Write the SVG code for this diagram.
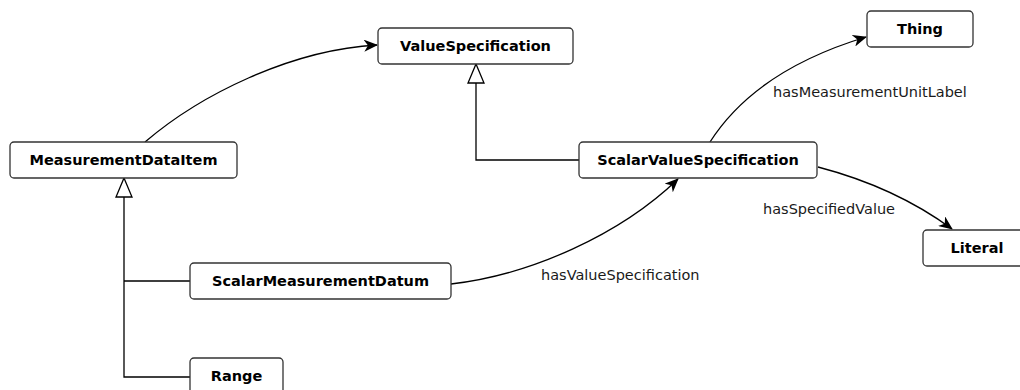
<svg xmlns="http://www.w3.org/2000/svg" width="1020" height="390" viewBox="0 0 1020 390">
  <style>
    .box { fill: #ffffff; stroke: #333333; stroke-width: 1.3; }
    .name { font-family: "DejaVu Sans", sans-serif; font-size: 14.5px; font-weight: bold; fill: #000000; text-anchor: middle; }
    .label { font-family: "DejaVu Sans", sans-serif; font-size: 14.5px; fill: #1a1a1a; }
    .edge { fill: none; stroke: #000000; stroke-width: 1.3; }
    .gen { fill: none; stroke: #000000; stroke-width: 1.3; }
    .tri { fill: #ffffff; stroke: #000000; stroke-width: 1.3; }
  </style>
  <defs>
    <marker id="arrow" viewBox="0 0 14 12" refX="13" refY="6" markerWidth="14" markerHeight="12" markerUnits="userSpaceOnUse" orient="auto">
      <path d="M0,0 L14,6 L0,12 L4,6 Z" fill="#000000"/>
    </marker>
  </defs>
  <rect width="1020" height="390" fill="#ffffff"/>

  <g id="connectors">
    <!-- generalization: MeasurementDataItem subclasses -->
    <path class="gen" d="M124,197 V377 H190 M124,281 H190"/>
    <polygon class="tri" points="124,178 132,197 116,197"/>
    <!-- generalization: ScalarValueSpecification -> ValueSpecification -->
    <path class="gen" d="M476,83 V160 H579"/>
    <polygon class="tri" points="476,64 484,83 468,83"/>
    <!-- object properties -->
    <path class="edge" d="M145,142 C200,95 290,50 377,45" marker-end="url(#arrow)"/>
    <path class="edge" d="M451,284 C530,275 620,235 678,179" marker-end="url(#arrow)"/>
    <path class="edge" d="M710,142 C740,95 790,60 866,37" marker-end="url(#arrow)"/>
    <path class="edge" d="M818,167 C860,178 910,198 952,229" marker-end="url(#arrow)"/>
    <text class="label" x="773" y="97">hasMeasurementUnitLabel</text>
    <text class="label" x="763" y="214">hasSpecifiedValue</text>
    <text class="label" x="541" y="280">hasValueSpecification</text>
  </g>

  <g id="ValueSpecification">
    <rect class="box" x="378" y="28" width="195" height="36" rx="4"/>
    <text class="name" x="475.5" y="51">ValueSpecification</text>
  </g>
  <g id="Thing">
    <rect class="box" x="867" y="11" width="106" height="36" rx="4"/>
    <text class="name" x="920" y="34">Thing</text>
  </g>
  <g id="MeasurementDataItem">
    <rect class="box" x="10" y="142" width="227" height="36" rx="4"/>
    <text class="name" x="123.5" y="165">MeasurementDataItem</text>
  </g>
  <g id="ScalarValueSpecification">
    <rect class="box" x="579" y="142" width="238" height="36" rx="4"/>
    <text class="name" x="698" y="165">ScalarValueSpecification</text>
  </g>
  <g id="Literal">
    <rect class="box" x="923" y="230" width="108" height="36" rx="4"/>
    <text class="name" x="977" y="253">Literal</text>
  </g>
  <g id="ScalarMeasurementDatum">
    <rect class="box" x="190" y="263" width="261" height="36" rx="4"/>
    <text class="name" x="320.5" y="286">ScalarMeasurementDatum</text>
  </g>
  <g id="Range">
    <rect class="box" x="190" y="358" width="93" height="36" rx="4"/>
    <text class="name" x="236.5" y="381">Range</text>
  </g>
</svg>
